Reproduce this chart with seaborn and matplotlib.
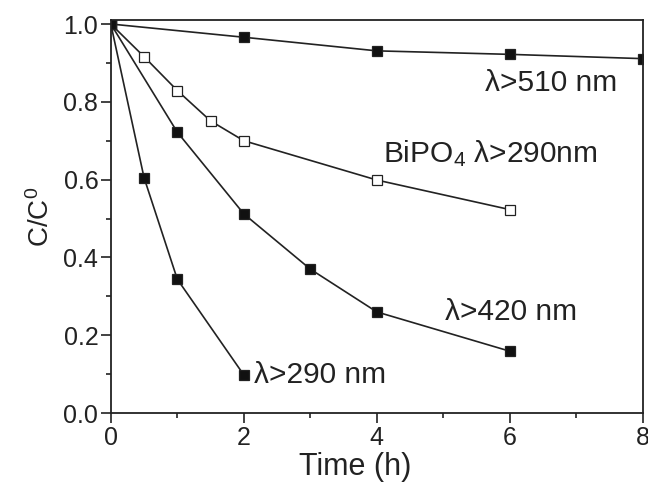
import pandas as pd
import seaborn as sns
from matplotlib import pyplot as plt
from matplotlib.ticker import MultipleLocator

sns.set_theme(style="ticks")
plt.rcParams['font.family'] = ['Liberation Sans', 'DejaVu Sans']
plt.rcParams['mathtext.fontset'] = 'custom'
plt.rcParams['mathtext.rm'] = 'Liberation Sans'
plt.rcParams['mathtext.it'] = 'Liberation Sans'

# Data
t_510 = [0, 2, 4, 6, 8]
c_510 = [1.0, 0.966, 0.931, 0.922, 0.911]

t_bipo4 = [0, 0.5, 1, 1.5, 2, 4, 6]
c_bipo4 = [1.0, 0.916, 0.829, 0.751, 0.700, 0.599, 0.523]

t_420 = [0, 1, 2, 3, 4, 6]
c_420 = [1.0, 0.722, 0.512, 0.370, 0.260, 0.159]

t_290 = [0, 0.5, 1, 2]
c_290 = [1.0, 0.605, 0.344, 0.098]

series = [
    ("λ>510 nm", t_510, c_510, "#111111", (5.62, 0.848)),
    ("BiPO$_4$ λ>290nm", t_bipo4, c_bipo4, "white", (4.1, 0.668)),
    ("λ>420 nm", t_420, c_420, "#111111", (5.03, 0.26)),
    ("λ>290 nm", t_290, c_290, "#111111", (2.15, 0.098)),
]

ink = "#222222"
fig = plt.figure(figsize=(6.48, 4.82), dpi=100)
ax = fig.add_axes([0.171, 0.143, 0.821, 0.8155])

for label, t, c, face, pos in series:
    df = pd.DataFrame({"Time": t, "C": c})
    sns.lineplot(data=df, x="Time", y="C", ax=ax, color=ink, linewidth=1.2,
                 marker="s", markersize=7.5, markerfacecolor=face,
                 markeredgecolor=ink, markeredgewidth=0.9, clip_on=True)
    ax.text(pos[0], pos[1], label, fontsize=21.5, color=ink, ha="left", va="center")

ax.set_xlim(0, 8)
ax.set_ylim(0, 1.0103)
ax.xaxis.set_major_locator(MultipleLocator(2))
ax.xaxis.set_minor_locator(MultipleLocator(1))
ax.yaxis.set_major_locator(MultipleLocator(0.2))
ax.yaxis.set_minor_locator(MultipleLocator(0.1))
ax.yaxis.set_major_formatter(plt.FuncFormatter(lambda v, _: f"{v:.1f}"))
ax.tick_params(which="major", direction="out", length=7, width=1.2, colors=ink,
               labelsize=18, pad=2, top=False, right=False)
ax.tick_params(which="minor", direction="out", length=3.6, width=1.2, colors=ink,
               top=False, right=False)
for s in ax.spines.values():
    s.set_linewidth(1.3)
    s.set_color(ink)

ax.set_xlabel("Time (h)", fontsize=22, color=ink, labelpad=0)
ax.xaxis.set_label_coords(0.46, -0.1)
ax.set_ylabel("C/C$^0$", fontsize=20, color=ink, labelpad=6)

fig.savefig("out.png", dpi=100)
